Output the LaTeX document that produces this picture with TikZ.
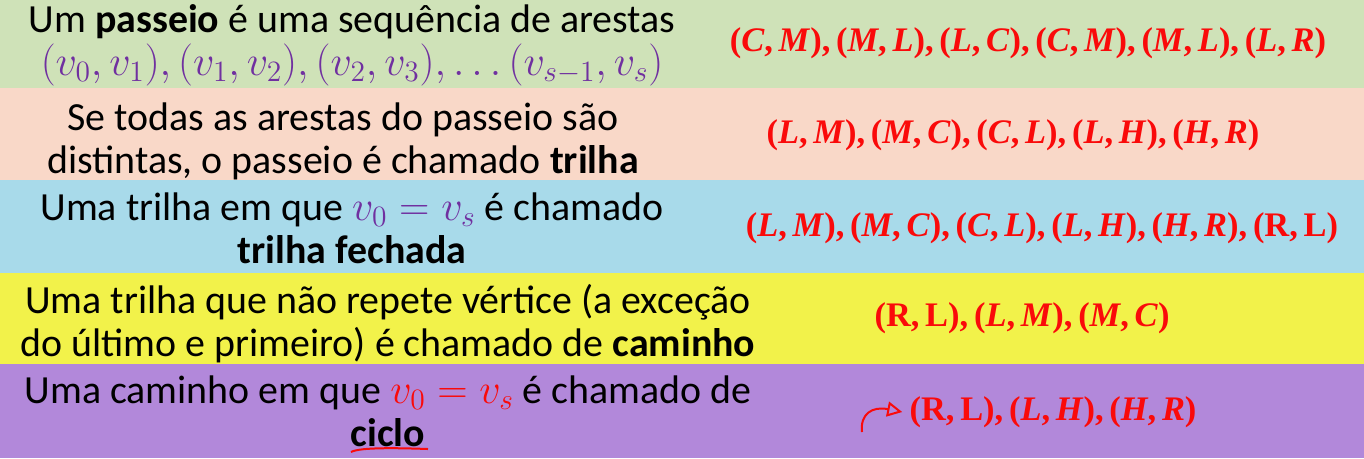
\RequirePackage{fix-cm}
\documentclass[tikz,border=0pt]{standalone}
\usepackage{fontspec}
\setmainfont{Carlito}
\newfontfamily\edgefont{Liberation Serif}
\usetikzlibrary{arrows.meta}
\definecolor{bandgreen}{RGB}{207,226,184}
\definecolor{bandpeach}{RGB}{249,216,200}
\definecolor{bandblue}{RGB}{168,218,234}
\definecolor{bandyellow}{RGB}{242,242,74}
\definecolor{bandpurple}{RGB}{178,136,218}
\definecolor{vpurple}{RGB}{112,48,160}
\definecolor{edgered}{RGB}{250,10,10}
\newcommand{\edg}[2]{(\textit{#1},\,\textit{#2})}
\newcommand{\edgup}[2]{(#1,\,#2)}
\newcommand{\vmath}[1]{{\fontsize{24}{24.5}\selectfont$#1$}}
\tikzset{
  deftext/.style={font=\fontsize{22.7}{24.5}\selectfont, align=center, text=black, inner sep=0pt},
  edgetext/.style={font=\edgefont\bfseries\fontsize{19.6}{21}\selectfont, text=edgered, inner sep=0pt}
}
\begin{document}
\begin{tikzpicture}[x=0.02cm,y=-0.02cm]
		%%%%% START %%%%%
		
		\fill[bandgreen] (0, 0) rectangle (1364, 88);
		\fill[bandpeach] (0, 88) rectangle (1364, 180);
		\fill[bandblue] (0, 180) rectangle (1364, 273);
		\fill[bandyellow] (0, 273) rectangle (1364, 364);
		\fill[bandpurple] (0, 364) rectangle (1364, 458);
		
		\node[deftext] (passeio) at (352, 45) {Um \textbf{passeio} é uma sequência de arestas\\
			\color{vpurple}\vmath{(v_0,v_1),(v_1,v_2),(v_2,v_3),\ldots(v_{s-1},v_s)}};
		\node[edgetext] (passeioedges) at (1028, 43) {\edg{C}{M},\,\edg{M}{L},\,\edg{L}{C},\,\edg{C}{M},\,\edg{M}{L},\,\edg{L}{R}};
		
		\node[deftext] (trilha) at (343, 141) {Se todas as arestas do passeio são\\
			distintas, o passeio é chamado \textbf{trilha}};
		\node[edgetext] (trilhaedges) at (1013, 135) {\edg{L}{M},\,\edg{M}{C},\,\edg{C}{L},\,\edg{L}{H},\,\edg{H}{R}};
		
		\node[deftext] (fechada) at (352, 228) {Uma trilha em que {\color{vpurple}\vmath{v_0=v_s}} é chamado\\
			\textbf{trilha fechada}};
		\node[edgetext] (fechadaedges) at (1042, 228) {\edg{L}{M},\,\edg{M}{C},\,\edg{C}{L},\,\edg{L}{H},\,\edg{H}{R},\,\edgup{R}{L}};
		
		\node[deftext] (caminho) at (388, 324) {Uma trilha que não repete vértice (a exceção\\
			do último e primeiro) é chamado de \textbf{caminho}};
		\node[edgetext] (caminhoedges) at (1022, 318) {\edgup{R}{L},\,\edg{L}{M},\,\edg{M}{C}};
		
		\node[deftext] (ciclo) at (388, 411) {Uma caminho em que {\color{edgered}\vmath{v_0=v_s}} é chamado de\\
			\textbf{ciclo}};
		\node[edgetext] (cicloedges) at (1053, 412) {\edgup{R}{L},\,\edg{L}{H},\,\edg{H}{R}};
		
		\draw[edgered, line width=0.4mm] (351, 452) .. controls (360, 447) and (400, 448) .. (428, 449);
		
		\coordinate (curl) at (862, 432);
		\draw[edgered, line width=0.4mm, -{Triangle[open, length=3mm, width=3mm]}] (curl) .. controls (860, 414) and (872, 406) .. ([xshift=-4pt]cicloedges.west);
		
		%%%%% END %%%%%
	\end{tikzpicture}
\end{document}
